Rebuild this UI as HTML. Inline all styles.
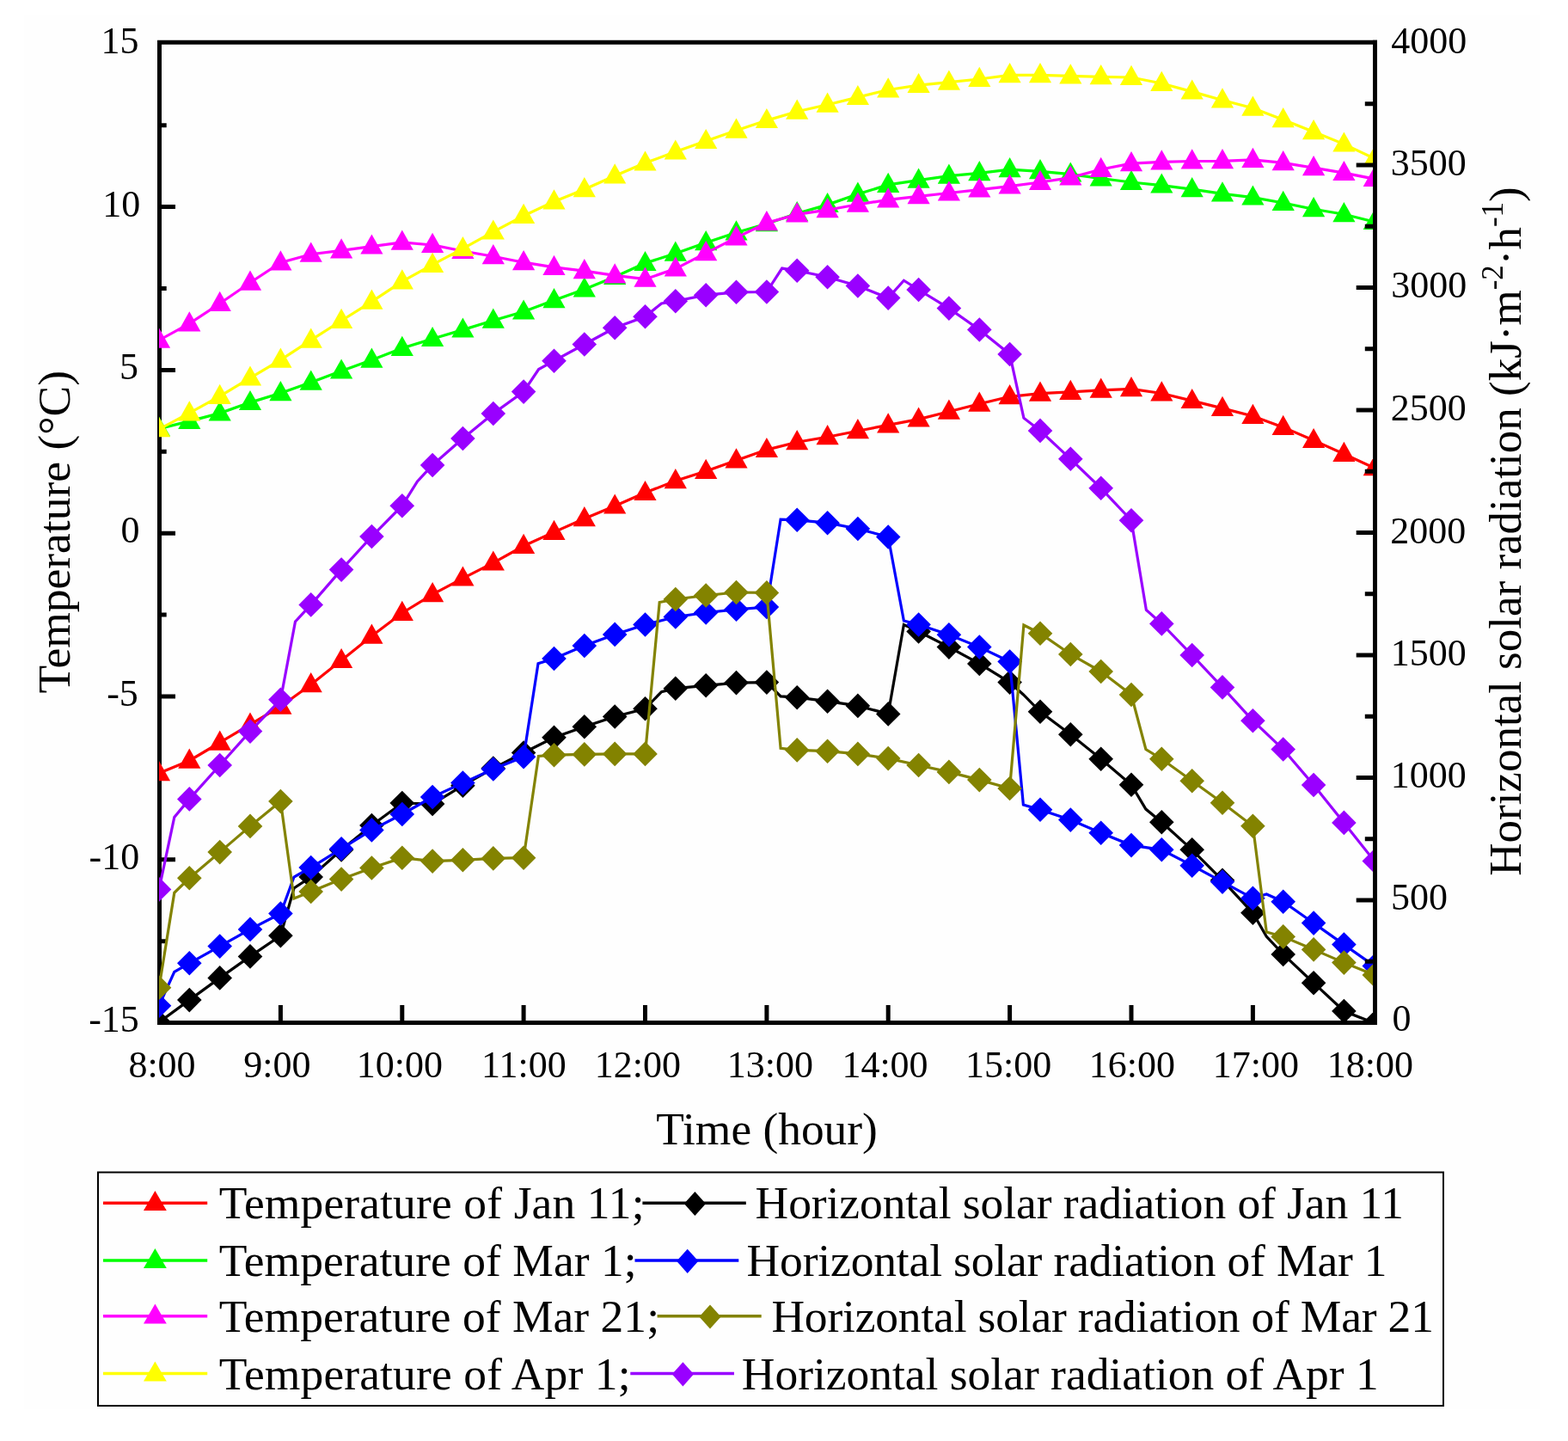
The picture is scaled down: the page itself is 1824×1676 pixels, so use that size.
<!DOCTYPE html>
<html><head><meta charset="utf-8"><title>Temperature and horizontal solar radiation</title>
<style>html,body{margin:0;padding:0;background:#fff;overflow:hidden;}svg{display:block;}</style></head><body>
<svg width="1824" height="1676" viewBox="0 0 1824 1676" font-family="'Liberation Serif','Times New Roman',serif">
<rect x="0" y="0" width="1824" height="1676" fill="#fff"/>
<rect x="28" y="18" width="1763" height="1621" fill="#fefefe"/>
<defs><clipPath id="pc"><rect x="185" y="49.2" width="1412.0" height="1140.3"/></clipPath></defs>
<path d="M185.5 49.2V1189.5H1599.5M185.5 49.2H1599.5" stroke="#000" stroke-width="5" fill="none" stroke-linecap="square"/>
<path d="M185.5 240.6H204 M185.5 430.4H204 M185.5 620.2H204 M185.5 810.0H204 M185.5 999.8H204 M185.5 145.7H193.7 M185.5 335.5H193.7 M185.5 525.3H193.7 M185.5 715.1H193.7 M185.5 904.9H193.7 M185.5 1094.7H193.7 M326.4 1189.5V1169.1 M467.8 1189.5V1169.1 M609.1 1189.5V1169.1 M750.5 1189.5V1169.1 M891.9 1189.5V1169.1 M1033.2 1189.5V1169.1 M1174.6 1189.5V1169.1 M1316.0 1189.5V1169.1 M1457.4 1189.5V1169.1" stroke="#000" stroke-width="5" fill="none"/>
<g clip-path="url(#pc)">
<path d="M185.0 899.2 L220.3 884.7 L255.7 863.7 L291.0 842.7 L326.4 821.7 L361.7 796.2 L397.1 768.1 L432.4 739.8 L467.8 713.0 L503.1 691.3 L538.4 672.6 L573.8 654.6 L609.1 635.0 L644.5 618.9 L679.8 603.3 L715.2 588.6 L750.5 573.1 L785.8 559.3 L821.2 548.0 L856.5 535.5 L891.9 523.1 L927.2 514.2 L962.6 508.3 L997.9 501.2 L1033.2 494.4 L1068.6 487.6 L1103.9 478.8 L1139.3 469.7 L1174.6 461.3 L1210.0 457.7 L1245.3 455.9 L1280.7 453.8 L1316.0 452.3 L1351.3 457.5 L1386.7 466.1 L1422.0 474.9 L1457.4 484.0 L1492.7 496.9 L1528.1 512.1 L1563.4 528.0 L1598.8 544.3" fill="none" stroke="#ff0000" stroke-width="3.2"/>
<g fill="#ff0000"><polygon points="185.0,885.0 198.1,908.2 171.9,908.2"/><polygon points="220.3,870.5 233.4,893.7 207.2,893.7"/><polygon points="255.7,849.5 268.8,872.7 242.6,872.7"/><polygon points="291.0,828.5 304.1,851.7 277.9,851.7"/><polygon points="326.4,807.5 339.5,830.7 313.3,830.7"/><polygon points="361.7,782.0 374.8,805.2 348.6,805.2"/><polygon points="397.1,753.9 410.2,777.1 384.0,777.1"/><polygon points="432.4,725.6 445.5,748.8 419.3,748.8"/><polygon points="467.8,698.8 480.9,722.0 454.6,722.0"/><polygon points="503.1,677.1 516.2,700.3 490.0,700.3"/><polygon points="538.4,658.4 551.5,681.6 525.3,681.6"/><polygon points="573.8,640.4 586.9,663.6 560.7,663.6"/><polygon points="609.1,620.8 622.2,644.0 596.0,644.0"/><polygon points="644.5,604.7 657.6,627.9 631.4,627.9"/><polygon points="679.8,589.1 692.9,612.3 666.7,612.3"/><polygon points="715.2,574.4 728.3,597.6 702.1,597.6"/><polygon points="750.5,558.9 763.6,582.1 737.4,582.1"/><polygon points="785.8,545.1 798.9,568.3 772.7,568.3"/><polygon points="821.2,533.8 834.3,557.0 808.1,557.0"/><polygon points="856.5,521.3 869.6,544.5 843.4,544.5"/><polygon points="891.9,508.9 905.0,532.1 878.8,532.1"/><polygon points="927.2,500.0 940.3,523.2 914.1,523.2"/><polygon points="962.6,494.1 975.7,517.3 949.5,517.3"/><polygon points="997.9,487.0 1011.0,510.2 984.8,510.2"/><polygon points="1033.2,480.2 1046.3,503.4 1020.1,503.4"/><polygon points="1068.6,473.4 1081.7,496.6 1055.5,496.6"/><polygon points="1103.9,464.6 1117.0,487.8 1090.8,487.8"/><polygon points="1139.3,455.5 1152.4,478.7 1126.2,478.7"/><polygon points="1174.6,447.1 1187.7,470.3 1161.5,470.3"/><polygon points="1210.0,443.5 1223.1,466.7 1196.9,466.7"/><polygon points="1245.3,441.7 1258.4,464.9 1232.2,464.9"/><polygon points="1280.7,439.6 1293.8,462.8 1267.6,462.8"/><polygon points="1316.0,438.1 1329.1,461.3 1302.9,461.3"/><polygon points="1351.3,443.3 1364.4,466.5 1338.2,466.5"/><polygon points="1386.7,451.9 1399.8,475.1 1373.6,475.1"/><polygon points="1422.0,460.7 1435.1,483.9 1408.9,483.9"/><polygon points="1457.4,469.8 1470.5,493.0 1444.3,493.0"/><polygon points="1492.7,482.7 1505.8,505.9 1479.6,505.9"/><polygon points="1528.1,497.9 1541.2,521.1 1515.0,521.1"/><polygon points="1563.4,513.8 1576.5,537.0 1550.3,537.0"/><polygon points="1598.8,530.1 1611.8,553.3 1585.7,553.3"/></g>
<path d="M185.0 498.6 L220.3 489.9 L255.7 480.6 L291.0 468.1 L326.4 457.2 L361.7 444.8 L397.1 431.6 L432.4 418.7 L467.8 405.0 L503.1 394.1 L538.4 383.6 L573.8 372.8 L609.1 362.6 L644.5 349.2 L679.8 336.5 L715.2 322.0 L750.5 306.1 L785.8 294.8 L821.2 282.3 L856.5 270.5 L891.9 260.3 L927.2 248.3 L962.6 238.1 L997.9 225.8 L1033.2 214.9 L1068.6 209.7 L1103.9 204.7 L1139.3 201.3 L1174.6 197.2 L1210.0 199.3 L1245.3 202.6 L1280.7 207.5 L1316.0 212.0 L1351.3 215.6 L1386.7 220.2 L1422.0 225.4 L1457.4 229.6 L1492.7 236.0 L1528.1 243.3 L1563.4 249.2 L1598.8 258.0" fill="none" stroke="#00ff00" stroke-width="3.2"/>
<g fill="#00ff00"><polygon points="185.0,484.4 198.1,507.6 171.9,507.6"/><polygon points="220.3,475.7 233.4,498.9 207.2,498.9"/><polygon points="255.7,466.4 268.8,489.6 242.6,489.6"/><polygon points="291.0,453.9 304.1,477.1 277.9,477.1"/><polygon points="326.4,443.0 339.5,466.2 313.3,466.2"/><polygon points="361.7,430.6 374.8,453.8 348.6,453.8"/><polygon points="397.1,417.4 410.2,440.6 384.0,440.6"/><polygon points="432.4,404.5 445.5,427.7 419.3,427.7"/><polygon points="467.8,390.8 480.9,414.0 454.6,414.0"/><polygon points="503.1,379.9 516.2,403.1 490.0,403.1"/><polygon points="538.4,369.4 551.5,392.6 525.3,392.6"/><polygon points="573.8,358.6 586.9,381.8 560.7,381.8"/><polygon points="609.1,348.4 622.2,371.6 596.0,371.6"/><polygon points="644.5,335.0 657.6,358.2 631.4,358.2"/><polygon points="679.8,322.3 692.9,345.5 666.7,345.5"/><polygon points="715.2,307.8 728.3,331.0 702.1,331.0"/><polygon points="750.5,291.9 763.6,315.1 737.4,315.1"/><polygon points="785.8,280.6 798.9,303.8 772.7,303.8"/><polygon points="821.2,268.1 834.3,291.3 808.1,291.3"/><polygon points="856.5,256.3 869.6,279.5 843.4,279.5"/><polygon points="891.9,246.1 905.0,269.3 878.8,269.3"/><polygon points="927.2,234.1 940.3,257.3 914.1,257.3"/><polygon points="962.6,223.9 975.7,247.1 949.5,247.1"/><polygon points="997.9,211.6 1011.0,234.8 984.8,234.8"/><polygon points="1033.2,200.7 1046.3,223.9 1020.1,223.9"/><polygon points="1068.6,195.5 1081.7,218.7 1055.5,218.7"/><polygon points="1103.9,190.5 1117.0,213.7 1090.8,213.7"/><polygon points="1139.3,187.1 1152.4,210.3 1126.2,210.3"/><polygon points="1174.6,183.0 1187.7,206.2 1161.5,206.2"/><polygon points="1210.0,185.1 1223.1,208.3 1196.9,208.3"/><polygon points="1245.3,188.4 1258.4,211.6 1232.2,211.6"/><polygon points="1280.7,193.3 1293.8,216.5 1267.6,216.5"/><polygon points="1316.0,197.8 1329.1,221.0 1302.9,221.0"/><polygon points="1351.3,201.4 1364.4,224.6 1338.2,224.6"/><polygon points="1386.7,206.0 1399.8,229.2 1373.6,229.2"/><polygon points="1422.0,211.2 1435.1,234.4 1408.9,234.4"/><polygon points="1457.4,215.4 1470.5,238.6 1444.3,238.6"/><polygon points="1492.7,221.8 1505.8,245.0 1479.6,245.0"/><polygon points="1528.1,229.1 1541.2,252.3 1515.0,252.3"/><polygon points="1563.4,235.0 1576.5,258.2 1550.3,258.2"/><polygon points="1598.8,243.8 1611.8,267.0 1585.7,267.0"/></g>
<path d="M185.0 395.7 L220.3 376.4 L255.7 353.0 L291.0 328.8 L326.4 305.4 L361.7 295.7 L397.1 291.4 L432.4 286.6 L467.8 281.8 L503.1 285.0 L538.4 292.0 L573.8 298.2 L609.1 305.2 L644.5 310.9 L679.8 315.2 L715.2 320.4 L750.5 324.7 L785.8 312.6 L821.2 294.3 L856.5 276.4 L891.9 259.2 L927.2 249.4 L962.6 244.2 L997.9 237.8 L1033.2 232.4 L1068.6 228.3 L1103.9 224.5 L1139.3 220.6 L1174.6 216.6 L1210.0 212.0 L1245.3 206.6 L1280.7 197.0 L1316.0 190.2 L1351.3 188.4 L1386.7 187.5 L1422.0 187.3 L1457.4 185.9 L1492.7 189.3 L1528.1 195.2 L1563.4 201.1 L1598.8 208.1" fill="none" stroke="#ff00ff" stroke-width="3.2"/>
<g fill="#ff00ff"><polygon points="185.0,381.5 198.1,404.7 171.9,404.7"/><polygon points="220.3,362.2 233.4,385.4 207.2,385.4"/><polygon points="255.7,338.8 268.8,362.0 242.6,362.0"/><polygon points="291.0,314.6 304.1,337.8 277.9,337.8"/><polygon points="326.4,291.2 339.5,314.4 313.3,314.4"/><polygon points="361.7,281.5 374.8,304.7 348.6,304.7"/><polygon points="397.1,277.2 410.2,300.4 384.0,300.4"/><polygon points="432.4,272.4 445.5,295.6 419.3,295.6"/><polygon points="467.8,267.6 480.9,290.8 454.6,290.8"/><polygon points="503.1,270.8 516.2,294.0 490.0,294.0"/><polygon points="538.4,277.8 551.5,301.0 525.3,301.0"/><polygon points="573.8,284.0 586.9,307.2 560.7,307.2"/><polygon points="609.1,291.0 622.2,314.2 596.0,314.2"/><polygon points="644.5,296.7 657.6,319.9 631.4,319.9"/><polygon points="679.8,301.0 692.9,324.2 666.7,324.2"/><polygon points="715.2,306.2 728.3,329.4 702.1,329.4"/><polygon points="750.5,310.5 763.6,333.7 737.4,333.7"/><polygon points="785.8,298.4 798.9,321.6 772.7,321.6"/><polygon points="821.2,280.1 834.3,303.3 808.1,303.3"/><polygon points="856.5,262.2 869.6,285.4 843.4,285.4"/><polygon points="891.9,245.0 905.0,268.2 878.8,268.2"/><polygon points="927.2,235.2 940.3,258.4 914.1,258.4"/><polygon points="962.6,230.0 975.7,253.2 949.5,253.2"/><polygon points="997.9,223.6 1011.0,246.8 984.8,246.8"/><polygon points="1033.2,218.2 1046.3,241.4 1020.1,241.4"/><polygon points="1068.6,214.1 1081.7,237.3 1055.5,237.3"/><polygon points="1103.9,210.3 1117.0,233.5 1090.8,233.5"/><polygon points="1139.3,206.4 1152.4,229.6 1126.2,229.6"/><polygon points="1174.6,202.4 1187.7,225.6 1161.5,225.6"/><polygon points="1210.0,197.8 1223.1,221.0 1196.9,221.0"/><polygon points="1245.3,192.4 1258.4,215.6 1232.2,215.6"/><polygon points="1280.7,182.8 1293.8,206.0 1267.6,206.0"/><polygon points="1316.0,176.0 1329.1,199.2 1302.9,199.2"/><polygon points="1351.3,174.2 1364.4,197.4 1338.2,197.4"/><polygon points="1386.7,173.3 1399.8,196.5 1373.6,196.5"/><polygon points="1422.0,173.1 1435.1,196.3 1408.9,196.3"/><polygon points="1457.4,171.7 1470.5,194.9 1444.3,194.9"/><polygon points="1492.7,175.1 1505.8,198.3 1479.6,198.3"/><polygon points="1528.1,181.0 1541.2,204.2 1515.0,204.2"/><polygon points="1563.4,186.9 1576.5,210.1 1550.3,210.1"/><polygon points="1598.8,193.9 1611.8,217.1 1585.7,217.1"/></g>
<path d="M185.0 499.2 L220.3 480.4 L255.7 460.9 L291.0 439.6 L326.4 418.7 L361.7 395.7 L397.1 373.0 L432.4 350.8 L467.8 327.4 L503.1 307.9 L538.4 289.1 L573.8 269.6 L609.1 251.0 L644.5 234.4 L679.8 220.2 L715.2 204.5 L750.5 189.6 L785.8 176.6 L821.2 164.1 L856.5 151.7 L891.9 140.1 L927.2 129.7 L962.6 121.7 L997.9 113.1 L1033.2 104.5 L1068.6 99.1 L1103.9 95.7 L1139.3 92.0 L1174.6 87.3 L1210.0 87.3 L1245.3 88.4 L1280.7 89.3 L1316.0 90.0 L1351.3 97.0 L1386.7 106.6 L1422.0 116.5 L1457.4 125.8 L1492.7 139.2 L1528.1 153.3 L1563.4 167.6 L1598.8 184.3" fill="none" stroke="#ffff00" stroke-width="3.2"/>
<g fill="#ffff00"><polygon points="185.0,485.0 198.1,508.2 171.9,508.2"/><polygon points="220.3,466.2 233.4,489.4 207.2,489.4"/><polygon points="255.7,446.7 268.8,469.9 242.6,469.9"/><polygon points="291.0,425.4 304.1,448.6 277.9,448.6"/><polygon points="326.4,404.5 339.5,427.7 313.3,427.7"/><polygon points="361.7,381.5 374.8,404.7 348.6,404.7"/><polygon points="397.1,358.8 410.2,382.0 384.0,382.0"/><polygon points="432.4,336.6 445.5,359.8 419.3,359.8"/><polygon points="467.8,313.2 480.9,336.4 454.6,336.4"/><polygon points="503.1,293.7 516.2,316.9 490.0,316.9"/><polygon points="538.4,274.9 551.5,298.1 525.3,298.1"/><polygon points="573.8,255.4 586.9,278.6 560.7,278.6"/><polygon points="609.1,236.8 622.2,260.0 596.0,260.0"/><polygon points="644.5,220.2 657.6,243.4 631.4,243.4"/><polygon points="679.8,206.0 692.9,229.2 666.7,229.2"/><polygon points="715.2,190.3 728.3,213.5 702.1,213.5"/><polygon points="750.5,175.4 763.6,198.6 737.4,198.6"/><polygon points="785.8,162.4 798.9,185.6 772.7,185.6"/><polygon points="821.2,149.9 834.3,173.1 808.1,173.1"/><polygon points="856.5,137.5 869.6,160.7 843.4,160.7"/><polygon points="891.9,125.9 905.0,149.1 878.8,149.1"/><polygon points="927.2,115.5 940.3,138.7 914.1,138.7"/><polygon points="962.6,107.5 975.7,130.7 949.5,130.7"/><polygon points="997.9,98.9 1011.0,122.1 984.8,122.1"/><polygon points="1033.2,90.3 1046.3,113.5 1020.1,113.5"/><polygon points="1068.6,84.9 1081.7,108.1 1055.5,108.1"/><polygon points="1103.9,81.5 1117.0,104.7 1090.8,104.7"/><polygon points="1139.3,77.8 1152.4,101.0 1126.2,101.0"/><polygon points="1174.6,73.1 1187.7,96.3 1161.5,96.3"/><polygon points="1210.0,73.1 1223.1,96.3 1196.9,96.3"/><polygon points="1245.3,74.2 1258.4,97.4 1232.2,97.4"/><polygon points="1280.7,75.1 1293.8,98.3 1267.6,98.3"/><polygon points="1316.0,75.8 1329.1,99.0 1302.9,99.0"/><polygon points="1351.3,82.8 1364.4,106.0 1338.2,106.0"/><polygon points="1386.7,92.4 1399.8,115.6 1373.6,115.6"/><polygon points="1422.0,102.3 1435.1,125.5 1408.9,125.5"/><polygon points="1457.4,111.6 1470.5,134.8 1444.3,134.8"/><polygon points="1492.7,125.0 1505.8,148.2 1479.6,148.2"/><polygon points="1528.1,139.1 1541.2,162.3 1515.0,162.3"/><polygon points="1563.4,153.4 1576.5,176.6 1550.3,176.6"/><polygon points="1598.8,170.1 1611.8,193.3 1585.7,193.3"/></g>
<path d="M185.0 1189.0 L220.3 1163.1 L255.7 1137.4 L291.0 1112.4 L326.4 1088.3 L342.0 1033.0 L361.7 1020.0 L397.1 988.5 L432.4 960.0 L467.8 934.0 L503.1 935.0 L538.4 913.7 L573.8 893.6 L609.1 875.5 L644.5 857.7 L679.8 845.3 L715.2 833.5 L750.5 824.3 L769.5 804.6 L785.8 800.7 L821.2 797.3 L856.5 794.1 L891.9 793.6 L908.1 809.9 L927.2 811.2 L962.6 815.7 L997.9 820.9 L1033.2 830.4 L1051.4 726.5 L1068.6 734.5 L1103.9 752.6 L1139.3 771.9 L1174.6 793.6 L1190.5 808.0 L1210.0 827.8 L1245.3 854.2 L1280.7 882.8 L1316.0 912.8 L1332.9 941.1 L1351.3 956.3 L1386.7 988.3 L1422.0 1023.8 L1457.4 1061.8 L1473.3 1089.4 L1492.7 1109.9 L1528.1 1143.2 L1563.4 1176.0 L1598.8 1190.0" fill="none" stroke="#000000" stroke-width="3.2"/>
<g fill="#000000"><polygon points="185.0,1174.7 199.3,1189.0 185.0,1203.3 170.7,1189.0"/><polygon points="220.3,1148.8 234.6,1163.1 220.3,1177.4 206.0,1163.1"/><polygon points="255.7,1123.1 270.0,1137.4 255.7,1151.7 241.4,1137.4"/><polygon points="291.0,1098.1 305.3,1112.4 291.0,1126.7 276.7,1112.4"/><polygon points="326.4,1074.0 340.7,1088.3 326.4,1102.6 312.1,1088.3"/><polygon points="361.7,1005.7 376.0,1020.0 361.7,1034.3 347.4,1020.0"/><polygon points="397.1,974.2 411.4,988.5 397.1,1002.8 382.8,988.5"/><polygon points="432.4,945.7 446.7,960.0 432.4,974.3 418.1,960.0"/><polygon points="467.8,919.7 482.1,934.0 467.8,948.3 453.4,934.0"/><polygon points="503.1,920.7 517.4,935.0 503.1,949.3 488.8,935.0"/><polygon points="538.4,899.4 552.7,913.7 538.4,928.0 524.1,913.7"/><polygon points="573.8,879.3 588.1,893.6 573.8,907.9 559.5,893.6"/><polygon points="609.1,861.2 623.4,875.5 609.1,889.8 594.8,875.5"/><polygon points="644.5,843.4 658.8,857.7 644.5,872.0 630.2,857.7"/><polygon points="679.8,831.0 694.1,845.3 679.8,859.6 665.5,845.3"/><polygon points="715.2,819.2 729.5,833.5 715.2,847.8 700.9,833.5"/><polygon points="750.5,810.0 764.8,824.3 750.5,838.6 736.2,824.3"/><polygon points="785.8,786.4 800.1,800.7 785.8,815.0 771.5,800.7"/><polygon points="821.2,783.0 835.5,797.3 821.2,811.6 806.9,797.3"/><polygon points="856.5,779.8 870.8,794.1 856.5,808.4 842.2,794.1"/><polygon points="891.9,779.3 906.2,793.6 891.9,807.9 877.6,793.6"/><polygon points="927.2,796.9 941.5,811.2 927.2,825.5 912.9,811.2"/><polygon points="962.6,801.4 976.9,815.7 962.6,830.0 948.3,815.7"/><polygon points="997.9,806.6 1012.2,820.9 997.9,835.2 983.6,820.9"/><polygon points="1033.2,816.1 1047.5,830.4 1033.2,844.7 1019.0,830.4"/><polygon points="1068.6,720.2 1082.9,734.5 1068.6,748.8 1054.3,734.5"/><polygon points="1103.9,738.3 1118.2,752.6 1103.9,766.9 1089.6,752.6"/><polygon points="1139.3,757.6 1153.6,771.9 1139.3,786.2 1125.0,771.9"/><polygon points="1174.6,779.3 1188.9,793.6 1174.6,807.9 1160.3,793.6"/><polygon points="1210.0,813.5 1224.3,827.8 1210.0,842.1 1195.7,827.8"/><polygon points="1245.3,839.9 1259.6,854.2 1245.3,868.5 1231.0,854.2"/><polygon points="1280.7,868.5 1295.0,882.8 1280.7,897.1 1266.4,882.8"/><polygon points="1316.0,898.5 1330.3,912.8 1316.0,927.1 1301.7,912.8"/><polygon points="1351.3,942.0 1365.6,956.3 1351.3,970.6 1337.0,956.3"/><polygon points="1386.7,974.0 1401.0,988.3 1386.7,1002.6 1372.4,988.3"/><polygon points="1422.0,1009.5 1436.3,1023.8 1422.0,1038.1 1407.7,1023.8"/><polygon points="1457.4,1047.5 1471.7,1061.8 1457.4,1076.1 1443.1,1061.8"/><polygon points="1492.7,1095.6 1507.0,1109.9 1492.7,1124.2 1478.4,1109.9"/><polygon points="1528.1,1128.9 1542.4,1143.2 1528.1,1157.5 1513.8,1143.2"/><polygon points="1563.4,1161.7 1577.7,1176.0 1563.4,1190.3 1549.1,1176.0"/><polygon points="1598.8,1175.7 1613.0,1190.0 1598.8,1204.3 1584.5,1190.0"/></g>
<path d="M185.0 1169.7 L202.8 1130.3 L220.3 1120.3 L255.7 1100.6 L291.0 1080.9 L326.4 1062.5 L342.0 1020.0 L361.7 1009.0 L397.1 987.2 L432.4 965.4 L467.8 947.0 L503.1 927.0 L538.4 910.6 L573.8 894.5 L609.1 880.3 L626.0 771.8 L644.5 766.0 L679.8 751.0 L715.2 737.9 L750.5 726.5 L785.8 717.5 L821.2 712.5 L856.5 708.8 L891.9 706.0 L908.1 604.1 L927.2 604.8 L962.6 608.2 L997.9 615.0 L1033.2 624.5 L1051.4 722.0 L1068.6 726.5 L1103.9 738.3 L1139.3 752.6 L1174.6 769.5 L1190.4 936.0 L1210.0 941.7 L1245.3 953.6 L1280.7 968.7 L1316.0 983.1 L1351.3 988.3 L1386.7 1006.7 L1422.0 1025.6 L1457.4 1044.8 L1473.3 1040.0 L1492.7 1048.7 L1528.1 1073.6 L1563.4 1098.6 L1598.8 1123.5" fill="none" stroke="#0000ff" stroke-width="3.2"/>
<g fill="#0000ff"><polygon points="185.0,1155.4 199.3,1169.7 185.0,1184.0 170.7,1169.7"/><polygon points="220.3,1106.0 234.6,1120.3 220.3,1134.6 206.0,1120.3"/><polygon points="255.7,1086.3 270.0,1100.6 255.7,1114.9 241.4,1100.6"/><polygon points="291.0,1066.6 305.3,1080.9 291.0,1095.2 276.7,1080.9"/><polygon points="326.4,1048.2 340.7,1062.5 326.4,1076.8 312.1,1062.5"/><polygon points="361.7,994.7 376.0,1009.0 361.7,1023.3 347.4,1009.0"/><polygon points="397.1,972.9 411.4,987.2 397.1,1001.5 382.8,987.2"/><polygon points="432.4,951.1 446.7,965.4 432.4,979.7 418.1,965.4"/><polygon points="467.8,932.7 482.1,947.0 467.8,961.3 453.4,947.0"/><polygon points="503.1,912.7 517.4,927.0 503.1,941.3 488.8,927.0"/><polygon points="538.4,896.3 552.7,910.6 538.4,924.9 524.1,910.6"/><polygon points="573.8,880.2 588.1,894.5 573.8,908.8 559.5,894.5"/><polygon points="609.1,866.0 623.4,880.3 609.1,894.6 594.8,880.3"/><polygon points="644.5,751.7 658.8,766.0 644.5,780.3 630.2,766.0"/><polygon points="679.8,736.7 694.1,751.0 679.8,765.3 665.5,751.0"/><polygon points="715.2,723.6 729.5,737.9 715.2,752.2 700.9,737.9"/><polygon points="750.5,712.2 764.8,726.5 750.5,740.8 736.2,726.5"/><polygon points="785.8,703.2 800.1,717.5 785.8,731.8 771.5,717.5"/><polygon points="821.2,698.2 835.5,712.5 821.2,726.8 806.9,712.5"/><polygon points="856.5,694.5 870.8,708.8 856.5,723.1 842.2,708.8"/><polygon points="891.9,691.7 906.2,706.0 891.9,720.3 877.6,706.0"/><polygon points="927.2,590.5 941.5,604.8 927.2,619.1 912.9,604.8"/><polygon points="962.6,593.9 976.9,608.2 962.6,622.5 948.3,608.2"/><polygon points="997.9,600.7 1012.2,615.0 997.9,629.3 983.6,615.0"/><polygon points="1033.2,610.2 1047.5,624.5 1033.2,638.8 1019.0,624.5"/><polygon points="1068.6,712.2 1082.9,726.5 1068.6,740.8 1054.3,726.5"/><polygon points="1103.9,724.0 1118.2,738.3 1103.9,752.6 1089.6,738.3"/><polygon points="1139.3,738.3 1153.6,752.6 1139.3,766.9 1125.0,752.6"/><polygon points="1174.6,755.2 1188.9,769.5 1174.6,783.8 1160.3,769.5"/><polygon points="1210.0,927.4 1224.3,941.7 1210.0,956.0 1195.7,941.7"/><polygon points="1245.3,939.3 1259.6,953.6 1245.3,967.9 1231.0,953.6"/><polygon points="1280.7,954.4 1295.0,968.7 1280.7,983.0 1266.4,968.7"/><polygon points="1316.0,968.8 1330.3,983.1 1316.0,997.4 1301.7,983.1"/><polygon points="1351.3,974.0 1365.6,988.3 1351.3,1002.6 1337.0,988.3"/><polygon points="1386.7,992.4 1401.0,1006.7 1386.7,1021.0 1372.4,1006.7"/><polygon points="1422.0,1011.3 1436.3,1025.6 1422.0,1039.9 1407.7,1025.6"/><polygon points="1457.4,1030.5 1471.7,1044.8 1457.4,1059.1 1443.1,1044.8"/><polygon points="1492.7,1034.4 1507.0,1048.7 1492.7,1063.0 1478.4,1048.7"/><polygon points="1528.1,1059.3 1542.4,1073.6 1528.1,1087.9 1513.8,1073.6"/><polygon points="1563.4,1084.3 1577.7,1098.6 1563.4,1112.9 1549.1,1098.6"/><polygon points="1598.8,1109.2 1613.0,1123.5 1598.8,1137.8 1584.5,1123.5"/></g>
<path d="M185.0 1148.7 L202.8 1038.4 L220.3 1021.3 L255.7 991.1 L291.0 960.9 L326.4 932.0 L342.0 1045.0 L361.7 1037.0 L397.1 1022.6 L432.4 1009.5 L467.8 997.7 L503.1 1001.6 L538.4 1000.3 L573.8 998.4 L609.1 997.7 L626.4 879.5 L644.5 878.2 L679.8 877.4 L715.2 876.9 L750.5 876.9 L767.2 700.5 L785.8 697.0 L821.2 692.5 L856.5 689.0 L891.9 689.4 L908.1 870.3 L927.2 872.4 L962.6 873.7 L997.9 876.9 L1033.2 882.1 L1068.6 890.0 L1103.9 897.9 L1139.3 907.1 L1174.6 917.0 L1190.9 727.0 L1210.0 736.7 L1245.3 761.0 L1280.7 781.0 L1316.0 808.0 L1332.9 871.5 L1351.3 882.8 L1386.7 908.3 L1422.0 933.8 L1457.4 960.8 L1473.3 1084.1 L1492.7 1089.4 L1528.1 1104.4 L1563.4 1119.6 L1598.8 1134.0" fill="none" stroke="#838300" stroke-width="3.2"/>
<g fill="#838300"><polygon points="185.0,1134.4 199.3,1148.7 185.0,1163.0 170.7,1148.7"/><polygon points="220.3,1007.0 234.6,1021.3 220.3,1035.6 206.0,1021.3"/><polygon points="255.7,976.8 270.0,991.1 255.7,1005.4 241.4,991.1"/><polygon points="291.0,946.6 305.3,960.9 291.0,975.2 276.7,960.9"/><polygon points="326.4,917.7 340.7,932.0 326.4,946.3 312.1,932.0"/><polygon points="361.7,1022.7 376.0,1037.0 361.7,1051.3 347.4,1037.0"/><polygon points="397.1,1008.3 411.4,1022.6 397.1,1036.9 382.8,1022.6"/><polygon points="432.4,995.2 446.7,1009.5 432.4,1023.8 418.1,1009.5"/><polygon points="467.8,983.4 482.1,997.7 467.8,1012.0 453.4,997.7"/><polygon points="503.1,987.3 517.4,1001.6 503.1,1015.9 488.8,1001.6"/><polygon points="538.4,986.0 552.7,1000.3 538.4,1014.6 524.1,1000.3"/><polygon points="573.8,984.1 588.1,998.4 573.8,1012.7 559.5,998.4"/><polygon points="609.1,983.4 623.4,997.7 609.1,1012.0 594.8,997.7"/><polygon points="644.5,863.9 658.8,878.2 644.5,892.5 630.2,878.2"/><polygon points="679.8,863.1 694.1,877.4 679.8,891.7 665.5,877.4"/><polygon points="715.2,862.6 729.5,876.9 715.2,891.2 700.9,876.9"/><polygon points="750.5,862.6 764.8,876.9 750.5,891.2 736.2,876.9"/><polygon points="785.8,682.7 800.1,697.0 785.8,711.3 771.5,697.0"/><polygon points="821.2,678.2 835.5,692.5 821.2,706.8 806.9,692.5"/><polygon points="856.5,674.7 870.8,689.0 856.5,703.3 842.2,689.0"/><polygon points="891.9,675.1 906.2,689.4 891.9,703.7 877.6,689.4"/><polygon points="927.2,858.1 941.5,872.4 927.2,886.7 912.9,872.4"/><polygon points="962.6,859.4 976.9,873.7 962.6,888.0 948.3,873.7"/><polygon points="997.9,862.6 1012.2,876.9 997.9,891.2 983.6,876.9"/><polygon points="1033.2,867.8 1047.5,882.1 1033.2,896.4 1019.0,882.1"/><polygon points="1068.6,875.7 1082.9,890.0 1068.6,904.3 1054.3,890.0"/><polygon points="1103.9,883.6 1118.2,897.9 1103.9,912.2 1089.6,897.9"/><polygon points="1139.3,892.8 1153.6,907.1 1139.3,921.4 1125.0,907.1"/><polygon points="1174.6,902.7 1188.9,917.0 1174.6,931.3 1160.3,917.0"/><polygon points="1210.0,722.4 1224.3,736.7 1210.0,751.0 1195.7,736.7"/><polygon points="1245.3,746.7 1259.6,761.0 1245.3,775.3 1231.0,761.0"/><polygon points="1280.7,766.7 1295.0,781.0 1280.7,795.3 1266.4,781.0"/><polygon points="1316.0,793.7 1330.3,808.0 1316.0,822.3 1301.7,808.0"/><polygon points="1351.3,868.5 1365.6,882.8 1351.3,897.1 1337.0,882.8"/><polygon points="1386.7,894.0 1401.0,908.3 1386.7,922.6 1372.4,908.3"/><polygon points="1422.0,919.5 1436.3,933.8 1422.0,948.1 1407.7,933.8"/><polygon points="1457.4,946.5 1471.7,960.8 1457.4,975.1 1443.1,960.8"/><polygon points="1492.7,1075.1 1507.0,1089.4 1492.7,1103.7 1478.4,1089.4"/><polygon points="1528.1,1090.1 1542.4,1104.4 1528.1,1118.7 1513.8,1104.4"/><polygon points="1563.4,1105.3 1577.7,1119.6 1563.4,1133.9 1549.1,1119.6"/><polygon points="1598.8,1119.7 1613.0,1134.0 1598.8,1148.3 1584.5,1134.0"/></g>
<path d="M185.0 1034.4 L202.8 950.4 L220.3 929.4 L255.7 890.0 L291.0 850.6 L326.4 813.8 L343.5 723.0 L361.7 703.4 L397.1 662.6 L432.4 624.0 L467.8 588.2 L485.5 560.0 L503.1 541.0 L538.4 510.0 L573.8 481.0 L609.1 455.6 L626.6 429.5 L644.5 419.7 L679.8 400.5 L715.2 381.3 L750.5 368.3 L769.4 353.0 L785.8 350.2 L821.2 343.2 L856.5 339.8 L891.9 339.5 L909.7 312.1 L927.2 314.8 L962.6 322.3 L997.9 332.5 L1033.2 346.6 L1051.4 326.2 L1068.6 337.0 L1103.9 358.6 L1139.3 383.5 L1174.6 412.0 L1190.9 486.2 L1210.0 500.9 L1245.3 533.8 L1280.7 567.8 L1316.0 605.2 L1333.4 709.5 L1351.3 725.4 L1386.7 762.0 L1422.0 799.4 L1457.4 838.2 L1492.7 871.5 L1528.1 913.0 L1563.4 956.9 L1598.8 1001.5" fill="none" stroke="#9900ff" stroke-width="3.2"/>
<g fill="#9900ff"><polygon points="185.0,1020.1 199.3,1034.4 185.0,1048.7 170.7,1034.4"/><polygon points="220.3,915.1 234.6,929.4 220.3,943.7 206.0,929.4"/><polygon points="255.7,875.7 270.0,890.0 255.7,904.3 241.4,890.0"/><polygon points="291.0,836.3 305.3,850.6 291.0,864.9 276.7,850.6"/><polygon points="326.4,799.5 340.7,813.8 326.4,828.1 312.1,813.8"/><polygon points="361.7,689.1 376.0,703.4 361.7,717.7 347.4,703.4"/><polygon points="397.1,648.3 411.4,662.6 397.1,676.9 382.8,662.6"/><polygon points="432.4,609.7 446.7,624.0 432.4,638.3 418.1,624.0"/><polygon points="467.8,573.9 482.1,588.2 467.8,602.5 453.4,588.2"/><polygon points="503.1,526.7 517.4,541.0 503.1,555.3 488.8,541.0"/><polygon points="538.4,495.7 552.7,510.0 538.4,524.3 524.1,510.0"/><polygon points="573.8,466.7 588.1,481.0 573.8,495.3 559.5,481.0"/><polygon points="609.1,441.3 623.4,455.6 609.1,469.9 594.8,455.6"/><polygon points="644.5,405.4 658.8,419.7 644.5,434.0 630.2,419.7"/><polygon points="679.8,386.2 694.1,400.5 679.8,414.8 665.5,400.5"/><polygon points="715.2,367.0 729.5,381.3 715.2,395.6 700.9,381.3"/><polygon points="750.5,354.0 764.8,368.3 750.5,382.6 736.2,368.3"/><polygon points="785.8,335.9 800.1,350.2 785.8,364.5 771.5,350.2"/><polygon points="821.2,328.9 835.5,343.2 821.2,357.5 806.9,343.2"/><polygon points="856.5,325.5 870.8,339.8 856.5,354.1 842.2,339.8"/><polygon points="891.9,325.2 906.2,339.5 891.9,353.8 877.6,339.5"/><polygon points="927.2,300.5 941.5,314.8 927.2,329.1 912.9,314.8"/><polygon points="962.6,308.0 976.9,322.3 962.6,336.6 948.3,322.3"/><polygon points="997.9,318.2 1012.2,332.5 997.9,346.8 983.6,332.5"/><polygon points="1033.2,332.3 1047.5,346.6 1033.2,360.9 1019.0,346.6"/><polygon points="1068.6,322.7 1082.9,337.0 1068.6,351.3 1054.3,337.0"/><polygon points="1103.9,344.3 1118.2,358.6 1103.9,372.9 1089.6,358.6"/><polygon points="1139.3,369.2 1153.6,383.5 1139.3,397.8 1125.0,383.5"/><polygon points="1174.6,397.7 1188.9,412.0 1174.6,426.3 1160.3,412.0"/><polygon points="1210.0,486.6 1224.3,500.9 1210.0,515.2 1195.7,500.9"/><polygon points="1245.3,519.5 1259.6,533.8 1245.3,548.1 1231.0,533.8"/><polygon points="1280.7,553.5 1295.0,567.8 1280.7,582.1 1266.4,567.8"/><polygon points="1316.0,590.9 1330.3,605.2 1316.0,619.5 1301.7,605.2"/><polygon points="1351.3,711.1 1365.6,725.4 1351.3,739.7 1337.0,725.4"/><polygon points="1386.7,747.7 1401.0,762.0 1386.7,776.3 1372.4,762.0"/><polygon points="1422.0,785.1 1436.3,799.4 1422.0,813.7 1407.7,799.4"/><polygon points="1457.4,823.9 1471.7,838.2 1457.4,852.5 1443.1,838.2"/><polygon points="1492.7,857.2 1507.0,871.5 1492.7,885.8 1478.4,871.5"/><polygon points="1528.1,898.7 1542.4,913.0 1528.1,927.3 1513.8,913.0"/><polygon points="1563.4,942.6 1577.7,956.9 1563.4,971.2 1549.1,956.9"/><polygon points="1598.8,987.2 1613.0,1001.5 1598.8,1015.8 1584.5,1001.5"/></g>
</g>
<path d="M1599.5 49.2V1189.5" stroke="#000" stroke-width="5" fill="none" stroke-linecap="square"/>
<path d="M1599.5 1047.0H1577.7 M1599.5 904.5H1577.7 M1599.5 762.0H1577.7 M1599.5 619.5H1577.7 M1599.5 477.0H1577.7 M1599.5 334.5H1577.7 M1599.5 192.0H1577.7 M1599.5 1118.2H1587.8 M1599.5 975.8H1587.8 M1599.5 833.2H1587.8 M1599.5 690.8H1587.8 M1599.5 548.2H1587.8 M1599.5 405.8H1587.8 M1599.5 263.3H1587.8 M1599.5 120.8H1587.8" stroke="#000" stroke-width="5" fill="none"/>
<g fill="#000"><text x="188.5" y="1253.0" text-anchor="middle" font-size="44">8:00</text><text x="322.4" y="1253.0" text-anchor="middle" font-size="44">9:00</text><text x="464.8" y="1253.0" text-anchor="middle" font-size="44">10:00</text><text x="609.4" y="1253.0" text-anchor="middle" font-size="44">11:00</text><text x="741.8" y="1253.0" text-anchor="middle" font-size="44">12:00</text><text x="895.9" y="1253.0" text-anchor="middle" font-size="44">13:00</text><text x="1029.5" y="1253.0" text-anchor="middle" font-size="44">14:00</text><text x="1173.1" y="1253.0" text-anchor="middle" font-size="44">15:00</text><text x="1316.8" y="1253.0" text-anchor="middle" font-size="44">16:00</text><text x="1460.9" y="1253.0" text-anchor="middle" font-size="44">17:00</text><text x="1593.8" y="1253.0" text-anchor="middle" font-size="44">18:00</text><text x="161.5" y="61.6" text-anchor="end" font-size="44">15</text><text x="163.2" y="251.9" text-anchor="end" font-size="44">10</text><text x="161.0" y="441.4" text-anchor="end" font-size="44">5</text><text x="162.5" y="631.0" text-anchor="end" font-size="44">0</text><text x="160.8" y="820.5" text-anchor="end" font-size="44">-5</text><text x="162.2" y="1010.8" text-anchor="end" font-size="44">-10</text><text x="161.8" y="1200.3" text-anchor="end" font-size="44">-15</text><text x="1618.2" y="61.9" text-anchor="start" font-size="44">4000</text><text x="1617.8" y="204.1" text-anchor="start" font-size="44">3500</text><text x="1618.2" y="346.1" text-anchor="start" font-size="44">3000</text><text x="1617.8" y="488.8" text-anchor="start" font-size="44">2500</text><text x="1617.2" y="631.5" text-anchor="start" font-size="44">2000</text><text x="1617.8" y="773.8" text-anchor="start" font-size="44">1500</text><text x="1617.8" y="916.0" text-anchor="start" font-size="44">1000</text><text x="1618.0" y="1058.3" text-anchor="start" font-size="44">500</text><text x="1619.5" y="1198.5" text-anchor="start" font-size="44">0</text></g>
<text x="892.1" y="1330.5" font-size="53.4" text-anchor="middle">Time (hour)</text>
<text transform="translate(80.5,618.7) rotate(-90)" font-size="53.5" text-anchor="middle">Temperature (°C)</text>
<text transform="translate(1768.5,618.0) rotate(-90)" font-size="53" text-anchor="middle">Horizontal solar radiation (kJ·m<tspan font-size="35" dy="-21">-2</tspan><tspan dy="21">·h</tspan><tspan font-size="35" dy="-21">-1</tspan><tspan dy="21">)</tspan></text>
<rect x="114" y="1363.5" width="1565" height="271.5" fill="none" stroke="#000" stroke-width="2"/>
<path d="M120 1399.2H241.2" stroke="#ff0000" stroke-width="3.6"/><polygon fill="#ff0000" points="180.4,1385.1 193.8,1408.1 167.0,1408.1"/><text id="lt0" x="254.8" y="1417.2" font-size="53.5" textLength="494.7" lengthAdjust="spacing">Temperature of Jan 11;</text><path d="M747.4 1399.2H867.8" stroke="#000000" stroke-width="3.6"/><polygon fill="#000000" points="808.4,1385.9 821.0,1400.0 808.4,1414.1 795.8,1400.0"/><text id="lh0" x="878.6" y="1417.2" font-size="53.5" textLength="754.3" lengthAdjust="spacing">Horizontal solar radiation of Jan 11</text>
<path d="M120 1466.0H241.2" stroke="#00ff00" stroke-width="3.6"/><polygon fill="#00ff00" points="180.4,1451.9 193.8,1474.9 167.0,1474.9"/><text id="lt1" x="254.8" y="1484.0" font-size="53.5" textLength="485.8" lengthAdjust="spacing">Temperature of Mar 1;</text><path d="M738.5 1466.0H859.3" stroke="#0000ff" stroke-width="3.6"/><polygon fill="#0000ff" points="799.7,1452.7 812.3,1466.8 799.7,1480.9 787.1,1466.8"/><text id="lh1" x="868.6" y="1484.0" font-size="53.5" textLength="745.0" lengthAdjust="spacing">Horizontal solar radiation of Mar 1</text>
<path d="M120 1530.7H241.2" stroke="#ff00ff" stroke-width="3.6"/><polygon fill="#ff00ff" points="180.4,1516.6 193.8,1539.6 167.0,1539.6"/><text id="lt2" x="254.8" y="1548.7" font-size="53.5" textLength="512.2" lengthAdjust="spacing">Temperature of Mar 21;</text><path d="M764.6 1530.7H885.7" stroke="#838300" stroke-width="3.6"/><polygon fill="#838300" points="826.0,1517.4 838.6,1531.5 826.0,1545.6 813.4,1531.5"/><text id="lh2" x="897.4" y="1548.7" font-size="53.5" textLength="770.5" lengthAdjust="spacing">Horizontal solar radiation of Mar 21</text>
<path d="M120 1597.5H241.2" stroke="#ffff00" stroke-width="3.6"/><polygon fill="#ffff00" points="180.4,1583.4 193.8,1606.4 167.0,1606.4"/><text id="lt3" x="254.8" y="1615.5" font-size="53.5" textLength="478.8" lengthAdjust="spacing">Temperature of Apr 1;</text><path d="M733.3 1597.5H854.0" stroke="#9900ff" stroke-width="3.6"/><polygon fill="#9900ff" points="794.4,1584.2 807.0,1598.3 794.4,1612.4 781.8,1598.3"/><text id="lh3" x="862.8" y="1615.5" font-size="53.5" textLength="740.9" lengthAdjust="spacing">Horizontal solar radiation of Apr 1</text>
</svg>
</body></html>
